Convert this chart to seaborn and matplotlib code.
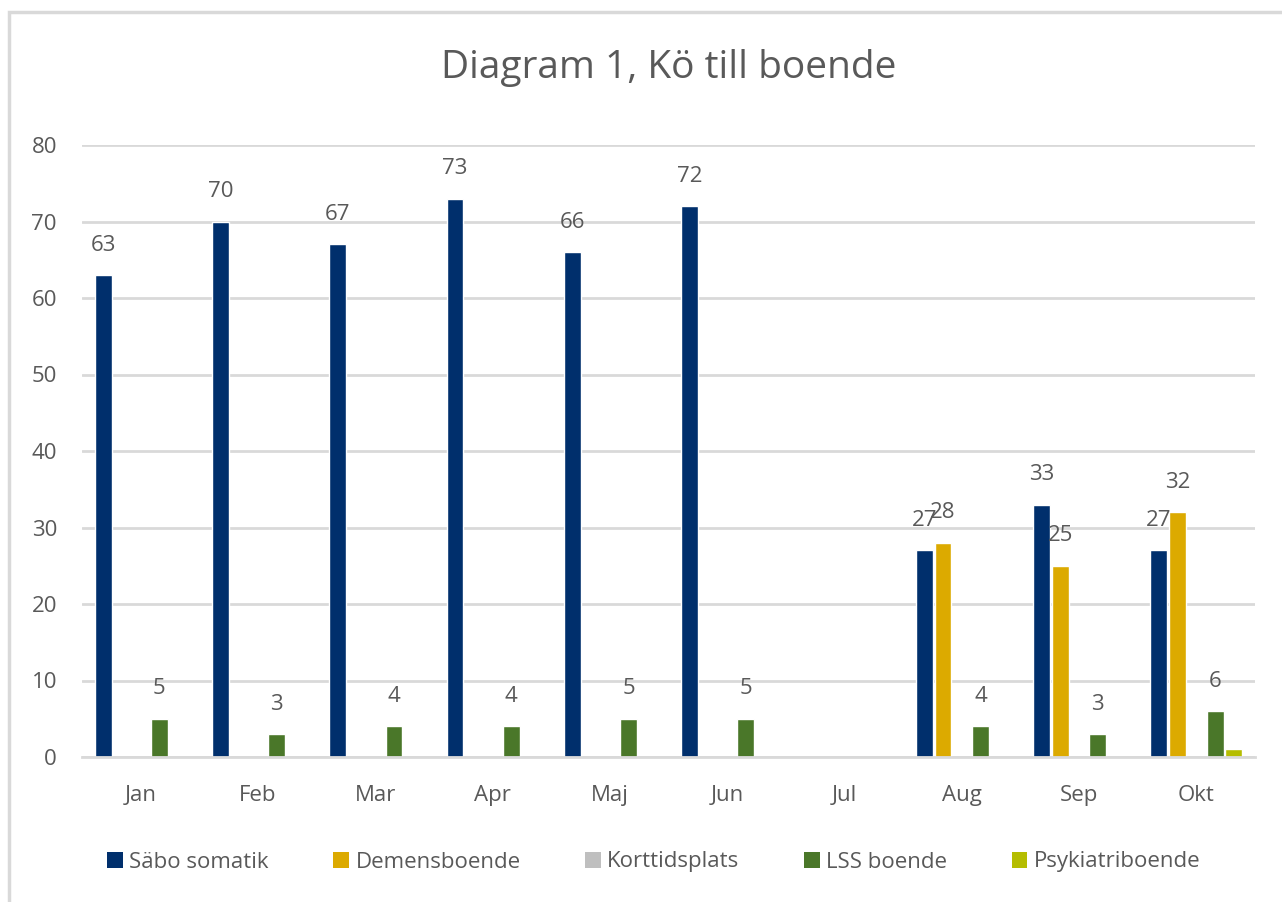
import numpy as np
import pandas as pd
import matplotlib
matplotlib.use("Agg")
import matplotlib.pyplot as plt
import seaborn as sns
from matplotlib.patches import Rectangle, Patch

months = ["Jan", "Feb", "Mar", "Apr", "Maj", "Jun", "Jul", "Aug", "Sep", "Okt"]
series = ["Säbo somatik", "Demensboende", "Korttidsplats", "LSS boende", "Psykiatriboende"]
sabo = [63, 70, 67, 73, 66, 72, np.nan, 27, 33, 27]
demens = [np.nan, np.nan, np.nan, np.nan, np.nan, np.nan, np.nan, 28, 25, 32]
korttid = [np.nan] * 10
lss = [5, 3, 4, 4, 5, 5, np.nan, 4, 3, 6]
psyk = [np.nan, np.nan, np.nan, np.nan, np.nan, np.nan, np.nan, np.nan, np.nan, 1]
colors = ["#002f6c", "#dcaa00", "#bfbfbf", "#4a7729", "#b5bd00"]

# long format
rows = []
for s, vals in zip(series, [sabo, demens, korttid, lss, psyk]):
    for m, v in zip(months, vals):
        rows.append({"month": m, "serie": s, "value": v})
df = pd.DataFrame(rows)

sns.set_style("white")
plt.rcParams["font.family"] = ["Open Sans", "DejaVu Sans"]
txt = "#595959"

fig = plt.figure(figsize=(12.82, 9.02), dpi=100)
ax = fig.add_axes([82 / 1282, (902 - 757) / 902, (1255 - 82) / 1282, (757 - 145) / 902])

sns.barplot(data=df, x="month", y="value", hue="serie", order=months, hue_order=series,
            palette=colors, width=0.8, gap=0.1, dodge=True, errorbar=None,
            legend=False, ax=ax, saturation=1)

# data labels (Psykiatriboende is not labelled in the original)
for cont, s in zip(ax.containers, series):
    if s == "Psykiatriboende":
        continue
    for bar in cont:
        h = bar.get_height()
        if np.isnan(h) or h == 0:
            continue
        ax.annotate(f"{int(h)}", (bar.get_x() + bar.get_width() / 2, h),
                    xytext=(0, 30), textcoords="offset pixels",
                    ha="center", va="center", fontsize=16, color=txt)

ax.set_ylim(0, 80)
ax.set_xlim(-0.5, 9.5)
ax.set_yticks(range(0, 81, 10))
ax.yaxis.grid(True, color="#d9d9d9", linewidth=2)
ax.set_axisbelow(True)
for sp in ["top", "right", "left"]:
    ax.spines[sp].set_visible(False)
ax.spines["bottom"].set_color("#d9d9d9")
ax.spines["bottom"].set_linewidth(2)
ax.set_xlabel("")
ax.set_ylabel("")
ax.tick_params(axis="y", length=0, pad=18, labelsize=16, labelcolor=txt)
ax.tick_params(axis="x", which="major", length=0, pad=20, labelsize=16, labelcolor=txt)
ax.set_xticks(np.arange(-0.5, 10, 1), minor=True)
ax.tick_params(axis="x", which="minor", length=6, width=2, color="#d9d9d9", direction="out")

ax.set_title("Diagram 1, Kö till boende", fontsize=28, color=txt, pad=48)

handles = [Patch(facecolor=c, edgecolor="none") for c in colors]
fig.legend(handles, series, loc="center", bbox_to_anchor=(0.51, (902 - 862) / 902), ncol=5,
           frameon=False, fontsize=16, labelcolor=txt, handlelength=0.7, handleheight=0.7,
           handletextpad=0.3, columnspacing=2.9)

# outer chart border (partly cropped in the original)
fig.patches.append(Rectangle((9 / 1282, -0.1), 1.2, 1 - 12 / 902 + 0.1, transform=fig.transFigure,
                             fill=False, edgecolor="#d9d9d9", linewidth=2.5, zorder=0))

fig.savefig("out.png", dpi=100)
